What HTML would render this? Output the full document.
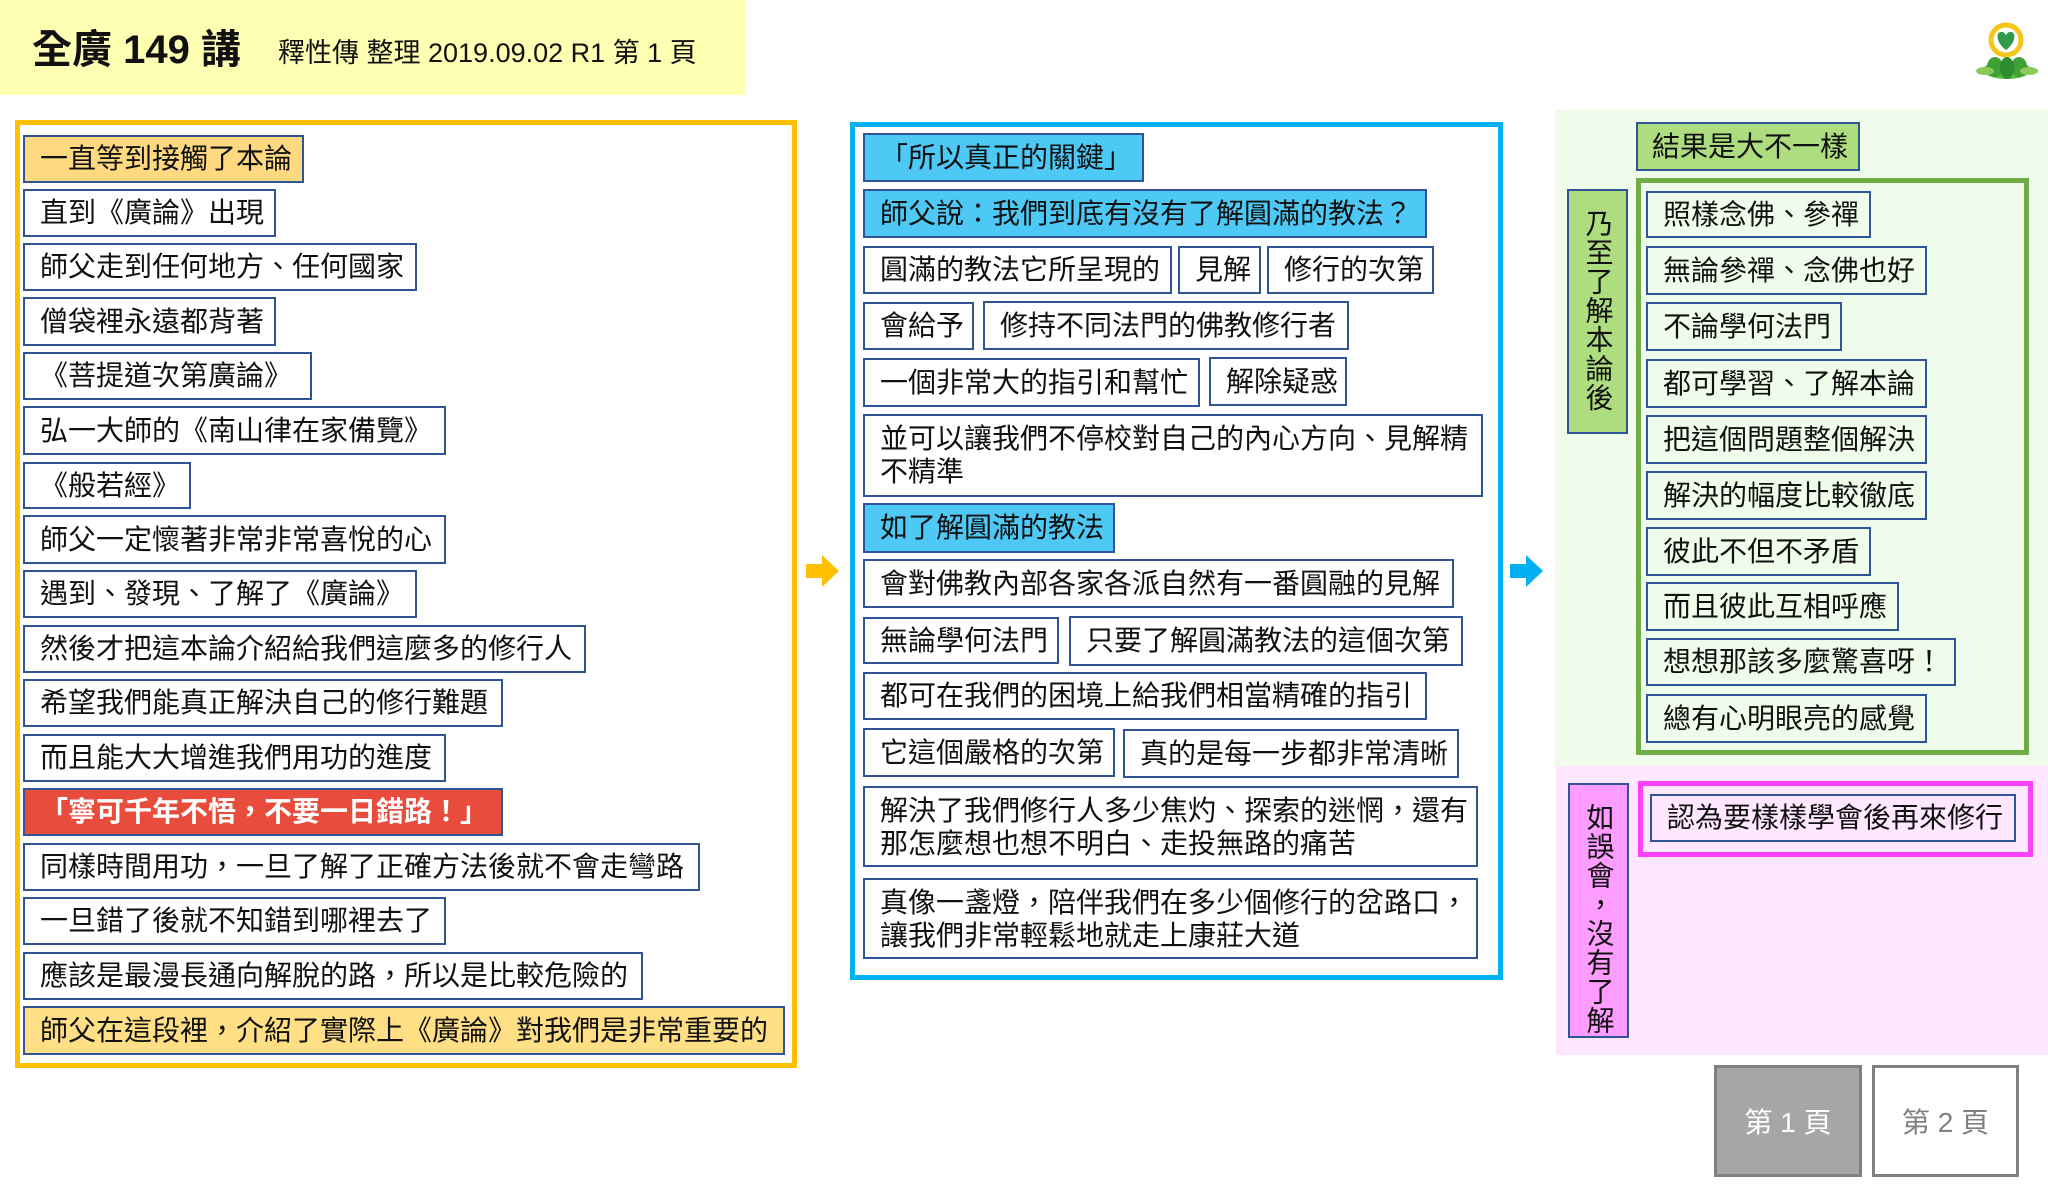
<!DOCTYPE html>
<html><head><meta charset="utf-8">
<style>
*{margin:0;padding:0;box-sizing:border-box}
body{width:2048px;height:1200px;position:relative;background:#fff;overflow:hidden;font-family:"Liberation Sans","Noto Sans CJK TC",sans-serif;color:#111}
.a{position:absolute}
.b{position:absolute;border:2px solid #2F5597;font-size:28px;line-height:32px;padding-left:15px;white-space:nowrap;display:flex;align-items:center;background:#fff}
.m{white-space:normal;align-items:flex-start;padding-top:6px;line-height:33px}
.g{background:#F0FCEB}
.v{position:absolute;border:2px solid #2F5597;writing-mode:vertical-rl;font-size:28px;line-height:30px;display:flex;align-items:center;padding-top:18px;letter-spacing:1px}
</style></head><body>
<div class="a" style="left:0;top:0;width:745px;height:95px;background:#FFFFB3"></div>
<div class="a" style="left:32px;top:28px;font-size:40px;font-weight:bold;line-height:44px">全廣 149 講</div>
<div class="a" style="left:278px;top:37px;font-size:27px;line-height:32px">釋性傳 整理 2019.09.02 R1 第 1 頁</div>

<!-- logo -->
<svg class="a" style="left:1975px;top:15px" width="65" height="68" viewBox="0 0 65 68">
<circle cx="31" cy="25" r="15" fill="#fff" stroke="#F5C518" stroke-width="5"/>
<path d="M31 35 C20 27 21 16 27 17 C29 17 31 19 31 21 C31 19 33 17 35 17 C41 16 42 27 31 35Z" fill="#2E9A4A"/>
<ellipse cx="32" cy="55" rx="24" ry="9" fill="#5DBB3F"/>
<ellipse cx="20" cy="52" rx="8" ry="10" fill="#3FA036"/>
<ellipse cx="44" cy="52" rx="8" ry="10" fill="#3FA036"/>
<ellipse cx="32" cy="53" rx="7" ry="11" fill="#2E8B30"/>
<ellipse cx="10" cy="56" rx="9" ry="4" fill="#8CCB5A"/>
<ellipse cx="54" cy="56" rx="9" ry="4" fill="#8CCB5A"/>
</svg>

<!-- left frame -->
<div class="a" style="left:15px;top:120px;width:782px;height:948px;border:5px solid #FFC000"></div>
<div class="b" style="left:23px;top:135px;width:281px;height:48px;background:#FFD97F">一直等到接觸了本論</div>
<div class="b" style="left:23px;top:189px;width:253px;height:48px">直到《廣論》出現</div>
<div class="b" style="left:23px;top:243px;width:394px;height:48px">師父走到任何地方、任何國家</div>
<div class="b" style="left:23px;top:297px;width:253px;height:49px">僧袋裡永遠都背著</div>
<div class="b" style="left:23px;top:352px;width:289px;height:48px">《菩提道次第廣論》</div>
<div class="b" style="left:23px;top:406px;width:423px;height:49px">弘一大師的《南山律在家備覽》</div>
<div class="b" style="left:23px;top:462px;width:168px;height:47px">《般若經》</div>
<div class="b" style="left:23px;top:515px;width:423px;height:49px">師父一定懷著非常非常喜悅的心</div>
<div class="b" style="left:23px;top:570px;width:394px;height:48px">遇到、發現、了解了《廣論》</div>
<div class="b" style="left:23px;top:625px;width:563px;height:48px">然後才把這本論介紹給我們這麼多的修行人</div>
<div class="b" style="left:23px;top:679px;width:480px;height:48px">希望我們能真正解決自己的修行難題</div>
<div class="b" style="left:23px;top:734px;width:423px;height:48px">而且能大大增進我們用功的進度</div>
<div class="b" style="left:23px;top:788px;width:480px;height:48px;background:#E74C3C;color:#fff;font-weight:bold">「寧可千年不悟，不要一日錯路！」</div>
<div class="b" style="left:23px;top:843px;width:677px;height:48px">同樣時間用功，一旦了解了正確方法後就不會走彎路</div>
<div class="b" style="left:23px;top:897px;width:423px;height:48px">一旦錯了後就不知錯到哪裡去了</div>
<div class="b" style="left:23px;top:952px;width:620px;height:48px">應該是最漫長通向解脫的路，所以是比較危險的</div>
<div class="b" style="left:23px;top:1006px;width:762px;height:49px;background:#FFDF85">師父在這段裡，介紹了實際上《廣論》對我們是非常重要的</div>

<!-- arrows -->
<svg class="a" style="left:806px;top:554px" width="34" height="34"><polygon points="0,10 16,10 16,1 33,17 16,33 16,24 0,24" fill="#FFC000"/></svg>
<svg class="a" style="left:1510px;top:554px" width="34" height="34"><polygon points="0,10 16,10 16,1 33,17 16,33 16,24 0,24" fill="#00B0F0"/></svg>

<!-- middle frame -->
<div class="a" style="left:850px;top:122px;width:653px;height:858px;border:5px solid #00B0F0"></div>
<div class="b" style="left:863px;top:133px;width:281px;height:49px;background:#4EC8F4">「所以真正的關鍵」</div>
<div class="b" style="left:863px;top:189px;width:564px;height:49px;background:#4EC8F4">師父說：我們到底有沒有了解圓滿的教法？</div>
<div class="b" style="left:863px;top:246px;width:309px;height:48px">圓滿的教法它所呈現的</div>
<div class="b" style="left:1178px;top:246px;width:83px;height:48px">見解</div>
<div class="b" style="left:1267px;top:246px;width:167px;height:48px">修行的次第</div>
<div class="b" style="left:863px;top:302px;width:111px;height:48px">會給予</div>
<div class="b" style="left:983px;top:301px;width:366px;height:49px">修持不同法門的佛教修行者</div>
<div class="b" style="left:863px;top:358px;width:337px;height:49px">一個非常大的指引和幫忙</div>
<div class="b" style="left:1209px;top:357px;width:138px;height:49px">解除疑惑</div>
<div class="b m" style="left:863px;top:414px;width:620px;height:83px">並可以讓我們不停校對自己的內心方向、見解精不精準</div>
<div class="b" style="left:863px;top:503px;width:252px;height:50px;background:#4EC8F4">如了解圓滿的教法</div>
<div class="b" style="left:863px;top:559px;width:591px;height:49px">會對佛教內部各家各派自然有一番圓融的見解</div>
<div class="b" style="left:863px;top:617px;width:196px;height:47px">無論學何法門</div>
<div class="b" style="left:1069px;top:616px;width:394px;height:50px">只要了解圓滿教法的這個次第</div>
<div class="b" style="left:863px;top:672px;width:564px;height:48px">都可在我們的困境上給我們相當精確的指引</div>
<div class="b" style="left:863px;top:728px;width:252px;height:49px">它這個嚴格的次第</div>
<div class="b" style="left:1123px;top:729px;width:336px;height:49px">真的是每一步都非常清晰</div>
<div class="b m" style="left:863px;top:786px;width:615px;height:81px">解決了我們修行人多少焦灼、探索的迷惘，還有那怎麼想也想不明白、走投無路的痛苦</div>
<div class="b m" style="left:863px;top:878px;width:615px;height:81px">真像一盞燈，陪伴我們在多少個修行的岔路口，讓我們非常輕鬆地就走上康莊大道</div>

<!-- right -->
<div class="a" style="left:1555px;top:110px;width:493px;height:656px;background:#F0FCEB"></div>
<div class="a" style="left:1556px;top:766px;width:492px;height:289px;background:#FFE8FF"></div>
<div class="b" style="left:1636px;top:122px;width:224px;height:49px;background:#AEDD80;padding-left:14px">結果是大不一樣</div>
<div class="a" style="left:1636px;top:178px;width:393px;height:577px;border:5px solid #70AD47"></div>
<div class="v" style="left:1567px;top:189px;width:61px;height:245px;background:#AEDD80">乃至了解本論後</div>
<div class="b g" style="left:1646px;top:191px;width:225px;height:47px">照樣念佛、參禪</div>
<div class="b g" style="left:1646px;top:246px;width:281px;height:49px">無論參禪、念佛也好</div>
<div class="b g" style="left:1646px;top:302px;width:196px;height:49px">不論學何法門</div>
<div class="b g" style="left:1646px;top:359px;width:281px;height:49px">都可學習、了解本論</div>
<div class="b g" style="left:1646px;top:415px;width:281px;height:49px">把這個問題整個解決</div>
<div class="b g" style="left:1646px;top:471px;width:281px;height:49px">解決的幅度比較徹底</div>
<div class="b g" style="left:1646px;top:527px;width:225px;height:49px">彼此不但不矛盾</div>
<div class="b g" style="left:1646px;top:582px;width:253px;height:49px">而且彼此互相呼應</div>
<div class="b g" style="left:1646px;top:638px;width:310px;height:48px">想想那該多麼驚喜呀！</div>
<div class="b g" style="left:1646px;top:694px;width:281px;height:49px">總有心明眼亮的感覺</div>

<div class="v" style="left:1568px;top:783px;width:61px;height:255px;background:#FF9CFF">如誤會，沒有了解</div>
<div class="a" style="left:1638px;top:781px;width:395px;height:76px;border:5px solid #FF40FF"></div>
<div class="b" style="left:1650px;top:794px;width:366px;height:48px;background:#FFE8FF">認為要樣樣學會後再來修行</div>

<div class="a" style="left:1714px;top:1065px;width:148px;height:112px;background:#A6A6A6;border:3px solid #808080;color:#fff;font-size:28px;display:flex;align-items:center;justify-content:center">第 1 頁</div>
<div class="a" style="left:1872px;top:1065px;width:147px;height:112px;background:#fff;border:3px solid #808080;color:#808080;font-size:28px;display:flex;align-items:center;justify-content:center">第 2 頁</div>
</body></html>
